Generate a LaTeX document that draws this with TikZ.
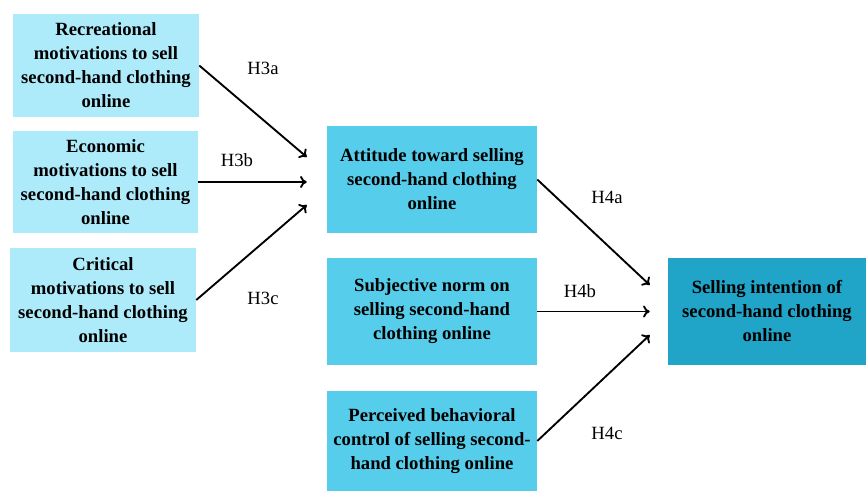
\documentclass[tikz,border=0pt]{standalone}
\usepackage{fontspec}
\setmainfont{Liberation Serif}
\usetikzlibrary{calc,arrows.meta}

\definecolor{motivcol}{HTML}{ADEBFB}
\definecolor{tpbcol}{HTML}{56CDEA}
\definecolor{intcol}{HTML}{20A4C8}

\begin{document}
\begin{tikzpicture}[x=0.75pt,y=0.75pt,
  box/.style={inner sep=0pt, align=center, font=\fontsize{14}{18}\selectfont\bfseries},
  hyp/.style={font=\fontsize{14}{16}\selectfont},
  link/.style={line width=1.4pt, -{To[length=5pt,width=9pt]}}]
  \useasboundingbox (0,0) rectangle (866,493);

  % --------------------
  % Motivation boxes (left column)
  % --------------------
  \node[box, fill=motivcol, minimum width=139.5pt, minimum height=77.25pt] (rec) at (106,427.5)
    {Recreational\\motivations to sell\\second-hand clothing\\online};
  \node[box, fill=motivcol, minimum width=138.75pt, minimum height=76.5pt] (eco) at (105.5,311)
    {Economic\\motivations to sell\\second-hand clothing\\online};
  \node[box, fill=motivcol, minimum width=139.5pt, minimum height=78pt] (cri) at (103,193)
    {Critical\\motivations to sell\\second-hand clothing\\online};

  % --------------------
  % TPB boxes (middle column)
  % --------------------
  \node[box, fill=tpbcol, minimum width=157.5pt, minimum height=80.25pt] (att) at (432,313.5)
    {Attitude toward selling\\second-hand clothing\\online};
  \node[box, fill=tpbcol, minimum width=157.5pt, minimum height=80.25pt] (sub) at (432,181.5)
    {Subjective norm on\\selling second-hand\\clothing online};
  \node[box, fill=tpbcol, minimum width=157.5pt, minimum height=75pt] (per) at (432,52)
    {Perceived behavioral\\control of selling second-\\hand clothing online};

  % --------------------
  % Intention box (right)
  % --------------------
  \node[box, fill=intcol, minimum width=148.5pt, minimum height=80.25pt] (sel) at (767,181.5)
    {Selling intention of\\second-hand clothing\\online};

  % arrow ends in front of the target boxes
  \coordinate (att a) at ($(att.west)+(-20,22.5)$);
  \coordinate (att b) at ($(att.west)+(-20,-2.5)$);
  \coordinate (att c) at ($(att.west)+(-20,-25.5)$);
  \coordinate (sel a) at ($(sel.west)+(-18,26.5)$);
  \coordinate (sel b) at ($(sel.west)+(-18,0)$);
  \coordinate (sel c) at ($(sel.west)+(-18,-23.5)$);

  % H3 paths
  \draw[link] (rec.east) -- (att a);
  \draw[link] (eco.east) -- (att b);
  \draw[link] (cri.east) -- (att c);
  \node[hyp] (h3a) at (263,425) {H3a};
  \node[hyp] (h3b) at (237,333) {H3b};
  \node[hyp] (h3c) at (263,195) {H3c};

  % H4 paths
  \draw[link] (att.east) -- (sel a);
  \draw[link] (sub.east) -- (sel b);
  \draw[link] (per.east) -- (sel c);
  \node[hyp] (h4a) at (607,296) {H4a};
  \node[hyp] (h4b) at (580,202) {H4b};
  \node[hyp] (h4c) at (607,60) {H4c};

\end{tikzpicture}
\end{document}
